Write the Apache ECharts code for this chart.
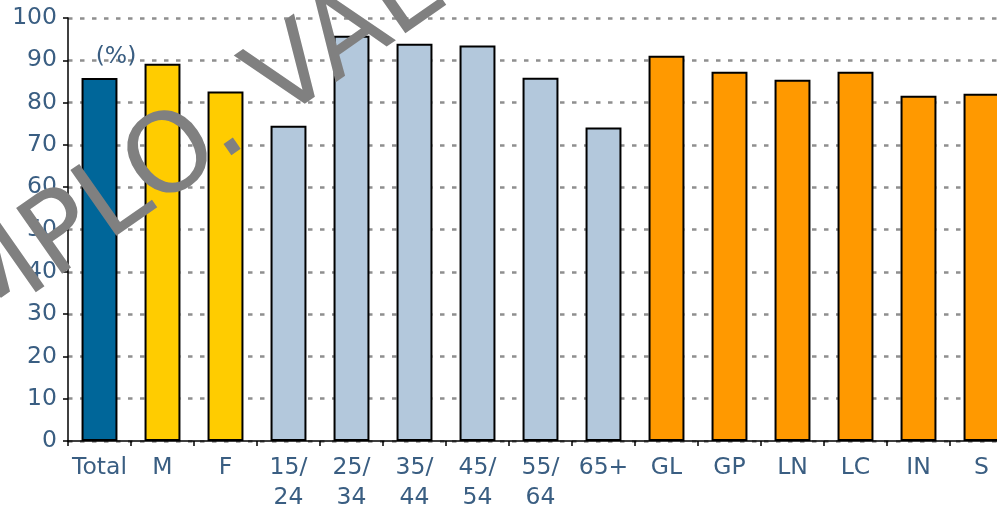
<!DOCTYPE html>
<html>
<head>
<meta charset="utf-8">
<script src="https://cdn.jsdelivr.net/npm/echarts@6/dist/echarts.min.js"></script>
<style>
html,body{margin:0;padding:0;background:#fff;}
#chart{width:997px;height:507px;}
</style>
</head>
<body>
<div id="chart"></div>
<script>
const categories = ["Total","M","F","15/\n24","25/\n34","35/\n44","45/\n54","55/\n64","65+","GL","GP","LN","LC","IN","S"];
const values = [85.8, 89.2, 82.6, 74.5, 95.8, 93.9, 93.5, 85.9, 74.1, 91.1, 87.3, 85.4, 87.3, 81.6, 82.1];
const groups = ["total","sex","sex","age","age","age","age","age","age","area","area","area","area","area","area"];
const groupColors = {total:"#006699", sex:"#FFCC00", age:"#B3C8DC", area:"#FF9900"};
const yTicks = {min:0, max:100, interval:10};
const unitLabel = "(%)";
const watermark = "MPLO. VALIDO";

const labelColor = "#3A5E82";
const font = "DejaVu Sans, Verdana, sans-serif";

const chart = echarts.init(document.getElementById('chart'), null, {renderer:'canvas'});
chart.setOption({
  animation:false,
  grid:{left:68, top:18, right:-16, bottom:66, containLabel:false, outerBoundsMode:'none'},
  xAxis:{
    type:'category',
    data:categories,
    axisLine:{lineStyle:{color:'#000', width:1.5}},
    axisTick:{show:true, alignWithLabel:false, length:5, lineStyle:{color:'#000', width:1.5}},
    axisLabel:{interval:0, color:labelColor, fontFamily:font, fontSize:23.5, lineHeight:30, margin:12}
  },
  yAxis:{
    type:'value',
    min:yTicks.min, max:yTicks.max, interval:yTicks.interval,
    axisLine:{show:true, lineStyle:{color:'#000', width:1.5}},
    axisTick:{show:true, length:5, lineStyle:{color:'#000', width:1.5}},
    axisLabel:{color:labelColor, fontFamily:font, fontSize:23.5, margin:11},
    splitLine:{show:true, lineStyle:{color:'#8f8f8f', width:2.5, type:[4.5,7.5]}}
  },
  series:[{
    type:'bar',
    barWidth:'57%',
    data:values.map((v,i)=>({value:v, itemStyle:{color:groupColors[groups[i]]}})),
    itemStyle:{borderColor:'#000', borderWidth:2}
  }],
  graphic:[
    {type:'text', x:116, y:57, z:50,
     style:{text:unitLabel, fill:labelColor, font:'23.5px '+font, align:'center', verticalAlign:'middle'}},
    {type:'text', x:-41, y:311, rotation:35*Math.PI/180, z:100,
     style:{text:watermark, fill:'#808080', font:'110px '+font, align:'left', verticalAlign:'middle'}}
  ]
});
</script>
</body>
</html>
